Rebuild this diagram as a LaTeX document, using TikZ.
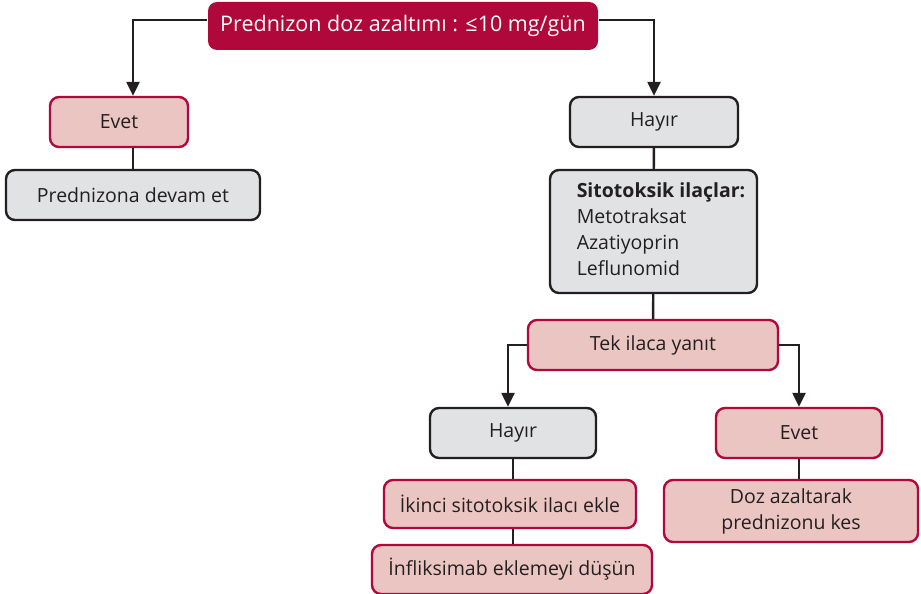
\documentclass[tikz,border=0pt]{standalone}
\usepackage{fontspec}
\setmainfont{Open Sans}
\usetikzlibrary{arrows.meta}
\definecolor{crimson}{HTML}{B0083A}
\definecolor{rose}{HTML}{EBC5C1}
\definecolor{ash}{HTML}{E1E2E4}
\definecolor{ink}{HTML}{231F20}
\tikzset{
  box/.style={rounded corners=9pt, line width=2.4pt, minimum height=50pt, inner sep=4pt,
    font=\fontsize{19.5}{26}\selectfont, text=ink},
  pinkbox/.style={box, draw=crimson, fill=rose},
  graybox/.style={box, draw=ink, fill=ash},
  link/.style={draw=ink, line width=2.4pt},
  arr/.style={link, -{Triangle[length=14pt,width=13pt]}}
}
\begin{document}
\begin{tikzpicture}[x=1pt,y=-1pt]
  \useasboundingbox (0,0) rectangle (921,594);
  % top question
  \node[box, fill=crimson, text=white, minimum width=390pt, minimum height=48pt,
    font=\fontsize{21.5}{26}\selectfont] (dose) at (403,26) {Prednizon doz azaltımı : ≤10 mg/gün};
  % left branch
  \node[pinkbox, minimum width=138pt] (yesL) at (119,122) {Evet};
  \node[graybox, minimum width=254pt] (keep) at (133,195) {Prednizona devam et};
  % right branch
  \node[graybox, minimum width=168pt] (noR) at (654,122) {Hayır};
  \node[graybox, minimum width=207pt, minimum height=123pt] (cyto) at (653.5,231.5)
    {\hspace*{15pt}\begin{tabular}{@{}l@{}}\bfseries Sitotoksik ilaçlar:\\Metotraksat\\Azatiyoprin\\Leflunomid\end{tabular}};
  \node[pinkbox, minimum width=250pt] (single) at (653,345) {Tek ilaca yanıt};
  \node[graybox, minimum width=166pt] (noB) at (513,433) {Hayır};
  \node[pinkbox, minimum width=166pt] (yesB) at (799,433) {Evet};
  \node[pinkbox, minimum width=252pt, minimum height=48pt] (second) at (510,504) {İkinci sitotoksik ilacı ekle};
  \node[pinkbox, minimum width=280pt, minimum height=49pt] (inflix) at (512,569.5) {İnfliksimab eklemeyi düşün};
  \node[pinkbox, minimum width=254pt, minimum height=62pt, align=center] (taper) at (791,511) {Doz azaltarak\\prednizonu kes};
  % connectors
  \draw[arr] ([yshift=6pt]dose.west) -| ([xshift=14pt]yesL.north);
  \draw[arr] ([yshift=6pt]dose.east) -| (noR.north);
  \draw[link] ([xshift=14pt]yesL.south) -- ([xshift=14pt]yesL.south |- keep.north);
  \draw[link] (noR) -- (cyto);
  \draw[link] (cyto) -- (single);
  \draw[arr] (single.west) -| ([xshift=-5pt]noB.north);
  \draw[arr] (single.east) -| (yesB.north);
  \draw[link] (noB.south) -- (noB.south |- second.north);
  \draw[link] (noB.south |- second.south) -- (noB.south |- inflix.north);
  \draw[link] (yesB) -- (yesB |- taper.north);
\end{tikzpicture}
\end{document}
